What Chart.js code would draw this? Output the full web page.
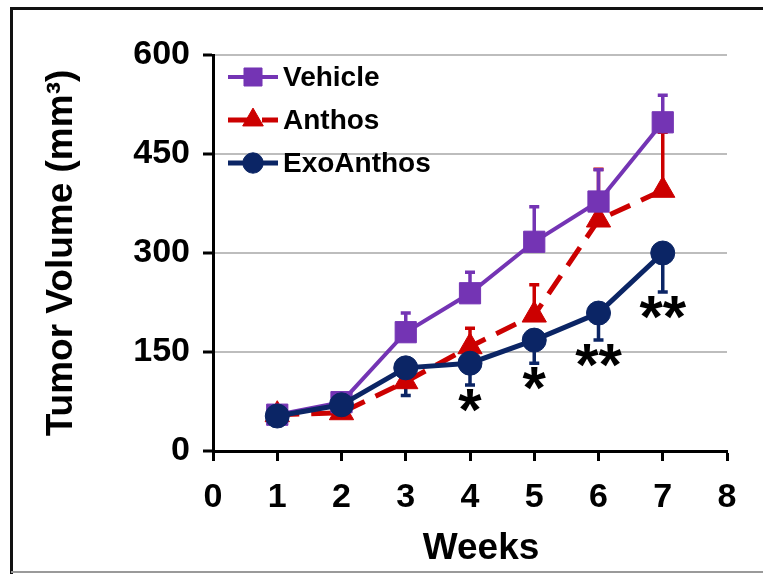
<!DOCTYPE html>
<html>
<head>
<meta charset="utf-8">
<script src="https://cdn.jsdelivr.net/npm/chart.js@4.4.1/dist/chart.umd.min.js"></script>
<style>
  html, body { margin: 0; padding: 0; background: #fff; }
  #wrap { width: 763px; height: 574px; }
</style>
</head>
<body>
<div id="wrap"><canvas id="c" width="763" height="574"></canvas></div>
<script>
// Tumor volume (mm³) by week, mean with one-sided SEM bars
const weeks = [1, 2, 3, 4, 5, 6, 7];
const vehicle = [55, 74, 180, 239, 317, 378, 498];
const vehicleSem = [5, 6, 29, 32, 53, 48, 41];
const anthos = [55, 58, 105, 158, 206, 350, 395];
const anthosSem = [6, 5, 8, 28, 46, 77, 88];
const exoAnthos = [53, 70, 126, 133, 168, 209, 300];
const exoAnthosSem = [5, 6, 42, 33, 35, 41, 59];
const significance = ['', '', '', '*', '*', '**', '**'];
const xTicks = [0, 1, 2, 3, 4, 5, 6, 7, 8];
const yTicks = [0, 150, 300, 450, 600];
const xTitle = 'Weeks';

const FONT = '"Liberation Sans", Arial, sans-serif';
const PURPLE = '#7434B4';
const RED = '#CC0000';
const NAVY = '#0B2565';

const toPoints = vals => weeks.map((w, i) => ({ x: w, y: vals[i] }));

const datasets = [
  {
    label: 'ExoAnthos', data: toPoints(exoAnthos), sem: exoAnthosSem, errDir: -1,
    borderColor: NAVY, backgroundColor: NAVY, borderWidth: 5,
    pointStyle: 'circle', pointRadius: 12, pointBorderWidth: 1, order: 0
  },
  {
    label: 'Vehicle', data: toPoints(vehicle), sem: vehicleSem, errDir: 1,
    borderColor: PURPLE, backgroundColor: PURPLE, borderWidth: 4,
    pointStyle: 'rect', pointRadius: 15, pointBorderWidth: 1, order: 1
  },
  {
    label: 'Anthos', data: toPoints(anthos), sem: anthosSem, errDir: 1,
    borderColor: RED, backgroundColor: RED, borderWidth: 5, borderDash: [22, 12],
    pointStyle: 'triangle', pointRadius: 14, pointBorderWidth: 1, order: 2
  }
];
const legendOrder = ['Vehicle', 'Anthos', 'ExoAnthos'];

// Outer frame around the figure
const framePlugin = {
  id: 'frame',
  beforeDraw(chart) {
    const ctx = chart.ctx;
    ctx.save();
    ctx.fillStyle = '#fff';
    ctx.fillRect(0, 0, chart.width, chart.height);
    ctx.strokeStyle = '#111';
    ctx.lineWidth = 3;
    ctx.beginPath();
    ctx.moveTo(11.5, chart.height);
    ctx.lineTo(11.5, 8.5);
    ctx.lineTo(chart.width, 8.5);
    ctx.stroke();
    ctx.strokeStyle = '#9a9a9a';
    ctx.lineWidth = 2;
    ctx.beginPath();
    ctx.moveTo(11, chart.height - 2);
    ctx.lineTo(chart.width, chart.height - 2);
    ctx.stroke();
    ctx.restore();
  }
};

// One-sided error bars with caps, drawn under the markers
const errorBarPlugin = {
  id: 'errorBars',
  beforeDatasetsDraw(chart) {
    const ctx = chart.ctx;
    const xs = chart.scales.x, ys = chart.scales.y;
    ctx.save();
    chart.data.datasets.slice().reverse().forEach(ds => {
      ctx.strokeStyle = ds.borderColor;
      ctx.lineWidth = 3.5;
      ctx.setLineDash([]);
      ds.data.forEach((p, i) => {
        const x = xs.getPixelForValue(p.x);
        const y0 = ys.getPixelForValue(p.y);
        const y1 = ys.getPixelForValue(p.y + ds.errDir * ds.sem[i]);
        ctx.beginPath();
        ctx.moveTo(x, y0);
        ctx.lineTo(x, y1);
        ctx.moveTo(x - 5, y1);
        ctx.lineTo(x + 5, y1);
        ctx.stroke();
      });
    });
    ctx.restore();
  }
};

// Significance marks below the ExoAnthos bars
const significancePlugin = {
  id: 'significance',
  afterDatasetsDraw(chart) {
    const ctx = chart.ctx;
    const xs = chart.scales.x, ys = chart.scales.y;
    ctx.save();
    ctx.fillStyle = '#000';
    ctx.font = 'bold 60px ' + FONT;
    ctx.textAlign = 'center';
    ctx.textBaseline = 'alphabetic';
    significance.forEach((s, i) => {
      if (!s) return;
      const x = xs.getPixelForValue(weeks[i]);
      const yEnd = ys.getPixelForValue(exoAnthos[i] - exoAnthosSem[i]);
      const m = ctx.measureText(s);
      const top = yEnd + 4;
      ctx.fillText(s, x, top + m.actualBoundingBoxAscent);
    });
    ctx.restore();
  }
};

// Legend inside the plot and the x-axis title
const legendPlugin = {
  id: 'insideLegend',
  afterDraw(chart) {
    const ctx = chart.ctx;
    const { drawPoint } = Chart.helpers;
    ctx.save();
    legendOrder.forEach((name, k) => {
      const ds = chart.data.datasets.find(d => d.label === name);
      const y = 77 + k * 43;
      ctx.strokeStyle = ds.borderColor;
      ctx.lineWidth = ds.borderWidth;
      ctx.setLineDash(ds.borderDash || []);
      ctx.beginPath();
      ctx.moveTo(228, y);
      ctx.lineTo(278, y);
      ctx.stroke();
      ctx.setLineDash([]);
      ctx.fillStyle = ds.backgroundColor;
      ctx.strokeStyle = ds.borderColor;
      ctx.lineWidth = 1;
      drawPoint(ctx, { pointStyle: ds.pointStyle, radius: ds.pointRadius * 0.85, rotation: 0, borderWidth: 1 }, 253, y);
      ctx.fillStyle = '#000';
      ctx.font = 'bold 28px ' + FONT;
      ctx.textAlign = 'left';
      ctx.textBaseline = 'middle';
      ctx.fillText(name, 283, y + 1);
    });
    const xs = chart.scales.x;
    ctx.font = 'bold 37px ' + FONT;
    ctx.textAlign = 'center';
    ctx.textBaseline = 'middle';
    ctx.fillText(xTitle, (xs.left + xs.right) / 2 + 11, 549);
    ctx.restore();
  }
};

new Chart(document.getElementById('c'), {
  type: 'line',
  data: { datasets },
  options: {
    responsive: false,
    animation: false,
    devicePixelRatio: 1,
    layout: { padding: { left: 0, top: 55, right: 36, bottom: 0 } },
    plugins: { legend: { display: false }, tooltip: { enabled: false } },
    elements: { line: { tension: 0 } },
    scales: {
      x: {
        type: 'linear', min: 0, max: 8,
        afterFit(s) { s.height = 123; },
        afterBuildTicks(s) { s.ticks = xTicks.map(v => ({ value: v })); },
        border: { color: '#000', width: 3 },
        grid: { drawOnChartArea: false, drawTicks: true, tickLength: 10, tickColor: '#000', tickWidth: 3 },
        ticks: { color: '#000', padding: 16, font: { family: FONT, size: 34, weight: 'bold' } }
      },
      y: {
        type: 'linear', min: 0, max: 600,
        afterFit(s) { s.width = 213; },
        afterBuildTicks(s) { s.ticks = yTicks.map(v => ({ value: v })); },
        border: { color: '#000', width: 3 },
        grid: { color: '#bdbdbd', lineWidth: 2, drawTicks: true, tickLength: 10, tickColor: '#000', tickWidth: 3 },
        ticks: { color: '#000', padding: 13, font: { family: FONT, size: 34, weight: 'bold' } },
        title: { display: true, text: 'Tumor Volume (mm³)', color: '#000', padding: { top: 40, bottom: 0 },
                 font: { family: FONT, size: 37, weight: 'bold' } }
      }
    }
  },
  plugins: [framePlugin, errorBarPlugin, significancePlugin, legendPlugin]
});
</script>
</body>
</html>
